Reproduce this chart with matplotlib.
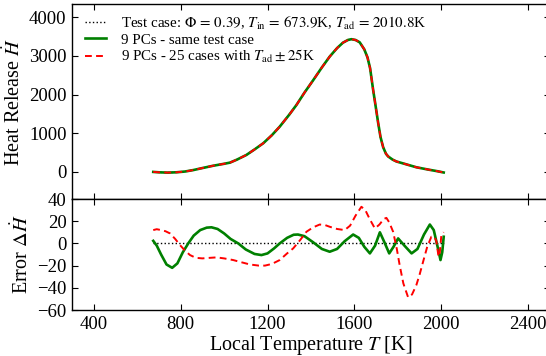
import numpy as np
from matplotlib import pyplot as plt

# heat release of the test case
T_HR = [673.9, 700, 740, 780, 820, 860, 900, 950, 1000, 1027, 1060, 1103, 1140,
        1180, 1220, 1256, 1300, 1333, 1370, 1410, 1450, 1486, 1520, 1547, 1570,
        1586, 1605, 1624, 1645, 1660, 1672, 1686, 1698, 1709, 1720, 1732, 1745,
        1755, 1775, 1793, 1830, 1885, 1940, 1980, 2010.8]
HR = [0, -10, -18, -10, 10, 50, 100, 160, 210, 240, 320, 440, 580,
      740, 950, 1170, 1480, 1730, 2050, 2370, 2700, 2980, 3200, 3340, 3410,
      3430, 3410, 3350, 3170, 2960, 2680, 2120, 1680, 1270, 900, 640, 470,
      400, 320, 270, 210, 120, 60, 20, -15]

# error of the 9 PC model, same test case
T_ERR_SAME = [673.9, 690, 710, 735, 761, 785, 810, 835, 860, 890, 920, 942, 970,
              1000, 1030, 1065, 1100, 1140, 1172, 1200, 1230, 1256, 1290, 1320,
              1340, 1370, 1410, 1450, 1486, 1520, 1555, 1594, 1620, 1645, 1671,
              1695, 1717, 1738, 1760, 1780, 1801, 1830, 1863, 1890, 1920, 1947,
              1965, 1985, 1996, 2004, 2010.8]
ERR_SAME = [2.3, -2, -10, -19, -22, -18, -8, 0, 7, 12, 14.2, 14.5, 13,
            9, 4, 0, -5.5, -9.5, -10.5, -9, -4.5, 0, 5, 7.8,
            8, 6.5, 1, -5, -7.5, -5, 2, 8, 5, -3, -9,
            -2, 10, 1, -9, -3, 4.5, -2, -9, -5, 8, 17,
            12, -5, -15, -8, 6]

# error of the 9 PC model trained on 25 cases
T_ERR_25 = [673.9, 690, 710, 730, 751, 775, 797, 820, 843, 870, 900, 935, 965,
            1000, 1042, 1080, 1119, 1160, 1188, 1220, 1256, 1290, 1318, 1350,
            1379, 1410, 1440, 1465, 1486, 1520, 1555, 1580, 1605, 1632, 1650,
            1670, 1694, 1715, 1735, 1747, 1760, 1778, 1795, 1808, 1825, 1847,
            1865, 1885, 1900, 1916, 1935, 1954, 1968, 1977, 1987, 1993, 2000,
            2010.8]
ERR_25 = [12, 12.8, 12, 11, 9, 4, -1.5, -6.5, -10.5, -13, -13.5, -13, -12.6,
          -13.5, -15, -17, -19, -20, -20, -18.5, -15, -9, -4.5, 3,
          10.5, 14.5, 17, 16.5, 15, 13, 12, 16, 25, 33, 30,
          22, 13.5, 17, 22, 23, 19, 10.5, -5, -19.5, -36, -48.6,
          -46, -37.5, -28, -16.5, -3, 6, 6, 2, -12, -8, 7.5,
          10]

T_IN = 673.9
T_AD = 2010.8

LABEL_TEST = (r'Test case: $\Phi\,=\,0.39$, $T_{\rm in}\,=\,673.9$K, '
              r'$T_{\rm ad}\,=\,2010.8$K')
LABEL_SAME = '9 PCs - same test case'
LABEL_25 = r'9 PCs - 25 cases with $T_{\rm ad}\pm25$K'

GREEN = '#008000'
RED = '#ff0000'


def style_axes(ax):
    ax.tick_params(direction='in', top=True, right=True, length=4.5,
                   width=0.8, labelsize=13.5, pad=4)
    for spine in ax.spines.values():
        spine.set_linewidth(1.0)


def main():
    plt.rcParams['font.family'] = ['Liberation Serif', 'DejaVu Serif']
    plt.rcParams['mathtext.fontset'] = 'stix'

    fig = plt.figure(figsize=(5.46, 3.56), dpi=100)
    ax_top = fig.add_axes([0.1319, 0.441, 0.8754, 0.5478])
    ax_bot = fig.add_axes([0.1319, 0.1292, 0.8754, 0.3118])

    # upper panel: heat release
    ax_top.plot(T_HR, HR, ':', color='k', lw=1.0, label=LABEL_TEST)
    ax_top.plot(T_HR, HR, '-', color=GREEN, lw=1.9, label=LABEL_SAME)
    ax_top.plot(T_HR, HR, '--', color=RED, lw=1.4, dashes=(3.5, 2.2), label=LABEL_25)
    ax_top.set_xlim(300, 2500)
    ax_top.set_ylim(-700, 4340)
    ax_top.set_xticks(np.arange(400, 2401, 400))
    ax_top.set_yticks(np.arange(0, 4001, 1000))
    ax_top.set_xticklabels([])
    ax_top.set_ylabel(r'Heat Release $\dot{H}$', fontsize=14.5, labelpad=3)
    style_axes(ax_top)
    ax_top.legend(loc='upper left', frameon=False, fontsize=10.8,
                  handlelength=1.4, handletextpad=1.0, labelspacing=0.1,
                  borderaxespad=0.3, bbox_to_anchor=(0.005, 1.0))

    # lower panel: error
    ax_bot.plot([T_IN, T_AD], [0, 0], ':', color='k', lw=1.0)
    ax_bot.plot(T_ERR_SAME, ERR_SAME, '-', color=GREEN, lw=1.9)
    ax_bot.plot(T_ERR_25, ERR_25, '--', color=RED, lw=1.4, dashes=(3.5, 2.2))
    ax_bot.set_xlim(300, 2500)
    ax_bot.set_ylim(-60, 40)
    ax_bot.set_xticks(np.arange(400, 2401, 400))
    ax_bot.set_yticks(np.arange(-60, 41, 20))
    ax_bot.set_ylabel(r'Error $\Delta\dot{H}$', fontsize=14.5, labelpad=3)
    ax_bot.set_xlabel(r'Local Temperature $T$ [K]', fontsize=14.5, labelpad=1)
    style_axes(ax_bot)

    fig.savefig('out.png', dpi=100)

    return


if __name__ == '__main__':
    main()
